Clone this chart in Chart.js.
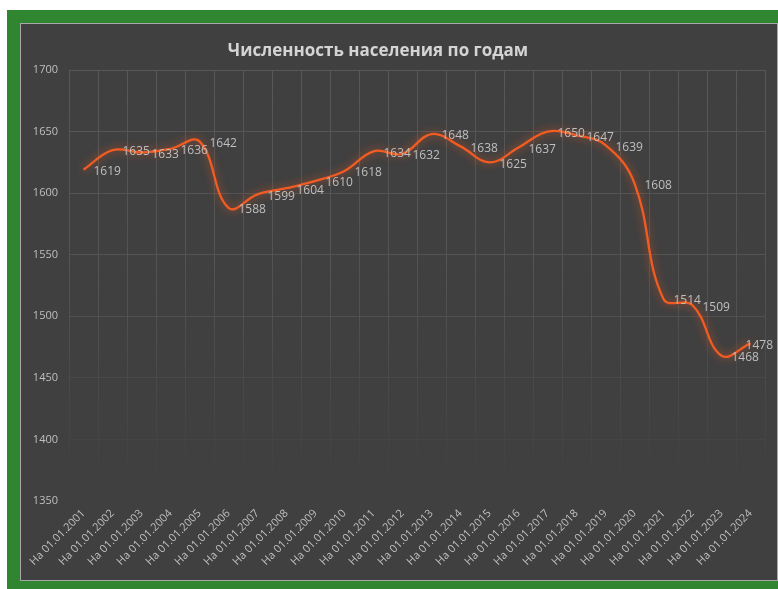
<!DOCTYPE html>
<html>
<head>
<meta charset="utf-8">
<script src="https://cdn.jsdelivr.net/npm/chart.js@4"></script>
<style>
    html, body { margin: 0; padding: 0; background: #ffffff; overflow: hidden; }
    .frame {
        position: absolute; left: 7px; top: 10px; width: 800px; height: 600px;
        background: #2f8530;
    }
    .panel {
        position: absolute; left: 20px; top: 23px; width: 756px; height: 556px;
        background: #404040; border: 1px solid #a8a8a8;
    }
    .panel canvas { display: block; }
</style>
</head>
<body>
<div class="frame"></div>
<div class="panel"><canvas id="popChart" width="756" height="556"></canvas></div>
<script>
// === CHART DATA ===
const chartTitle = 'Численность населения по годам';
const years = ['2001', '2002', '2003', '2004', '2005', '2006', '2007', '2008', '2009', '2010', '2011', '2012',
               '2013', '2014', '2015', '2016', '2017', '2018', '2019', '2020', '2021', '2022', '2023', '2024'];
const categories = years.map(y => 'На 01.01.' + y);
const population = [1619, 1635, 1633, 1636, 1642, 1588, 1599, 1604, 1610, 1618, 1634, 1632,
                    1648, 1638, 1625, 1637, 1650, 1647, 1639, 1608, 1514, 1509, 1468, 1478];
const yMin = 1350;
const yMax = 1700;
const yStep = 50;

const textColor = '#bfbfbf';
const lineColor = '#f25c22';

document.addEventListener('DOMContentLoaded', function() {
    const canvas = document.getElementById('popChart');

    // gridlines fade out towards the bottom, like the Excel original
    let gridGradient = null;
    function gridColor(context) {
        const area = context.chart.chartArea;
        if (!area) return '#555555';
        if (!gridGradient) {
            gridGradient = context.chart.ctx.createLinearGradient(0, area.top, 0, area.bottom);
            gridGradient.addColorStop(0, 'rgba(88,88,88,1)');
            gridGradient.addColorStop(0.55, 'rgba(84,84,84,0.9)');
            gridGradient.addColorStop(0.88, 'rgba(74,74,74,0.4)');
            gridGradient.addColorStop(1, 'rgba(64,64,64,0)');
        }
        return gridGradient;
    }

    // soft glow around the line
    const glowPlugin = {
        id: 'glow',
        beforeDatasetDraw(chart) {
            const ctx = chart.ctx;
            ctx.save();
            ctx.shadowColor = 'rgba(242,92,34,0.75)';
            ctx.shadowBlur = 9;
        },
        afterDatasetDraw(chart) {
            chart.ctx.restore();
        }
    };

    // value labels to the right of each point
    const valueLabels = {
        id: 'valueLabels',
        afterDatasetsDraw(chart) {
            const ctx = chart.ctx;
            const meta = chart.getDatasetMeta(0);
            ctx.save();
            ctx.font = '12px "Open Sans", sans-serif';
            ctx.fillStyle = textColor;
            ctx.textAlign = 'left';
            ctx.textBaseline = 'middle';
            meta.data.forEach((pt, i) => {
                const txt = String(population[i]);
                let x = pt.x + 10;
                const w = ctx.measureText(txt).width;
                if (x + w > chart.width - 4) x = chart.width - 4 - w;
                ctx.fillText(txt, x, pt.y + 2);
            });
            ctx.restore();
        }
    };

    // title drawn a bit left of centre
    const titlePlugin = {
        id: 'customTitle',
        afterDraw(chart) {
            const ctx = chart.ctx;
            ctx.save();
            ctx.font = 'bold 17px "Open Sans", sans-serif';
            ctx.fillStyle = '#d4d4d4';
            ctx.textAlign = 'center';
            ctx.textBaseline = 'middle';
            ctx.fillText(chartTitle, 357, 27);
            ctx.restore();
        }
    };

    new Chart(canvas, {
        type: 'line',
        data: {
            labels: categories,
            datasets: [{
                label: chartTitle,
                data: population,
                borderColor: lineColor,
                borderWidth: 2.3,
                pointRadius: 0,
                tension: 0.4,
                fill: false
            }]
        },
        options: {
            responsive: false,
            animation: false,
            layout: { padding: { top: 46, right: 12, left: 0, bottom: 0 } },
            scales: {
                x: {
                    offset: true,
                    grid: { offset: true, color: gridColor, drawTicks: false, lineWidth: 1 },
                    border: { display: false },
                    ticks: {
                        color: textColor,
                        font: { family: '"Open Sans", sans-serif', size: 11 },
                        minRotation: 45,
                        maxRotation: 45,
                        autoSkip: false,
                        padding: 6
                    },
                    afterFit(scale) { scale.height = 79; }
                },
                y: {
                    min: yMin,
                    max: yMax,
                    grid: { color: gridColor, drawTicks: false, lineWidth: 1 },
                    border: { display: false },
                    ticks: {
                        stepSize: yStep,
                        color: textColor,
                        font: { family: '"Open Sans", sans-serif', size: 11 },
                        padding: 11,
                        callback: function(value) { return String(value); }
                    },
                    afterFit(scale) { scale.width = 48; }
                }
            },
            plugins: {
                legend: { display: false },
                title: { display: false },
                tooltip: { enabled: false }
            }
        },
        plugins: [glowPlugin, valueLabels, titlePlugin]
    });
});
</script>
</body>
</html>
